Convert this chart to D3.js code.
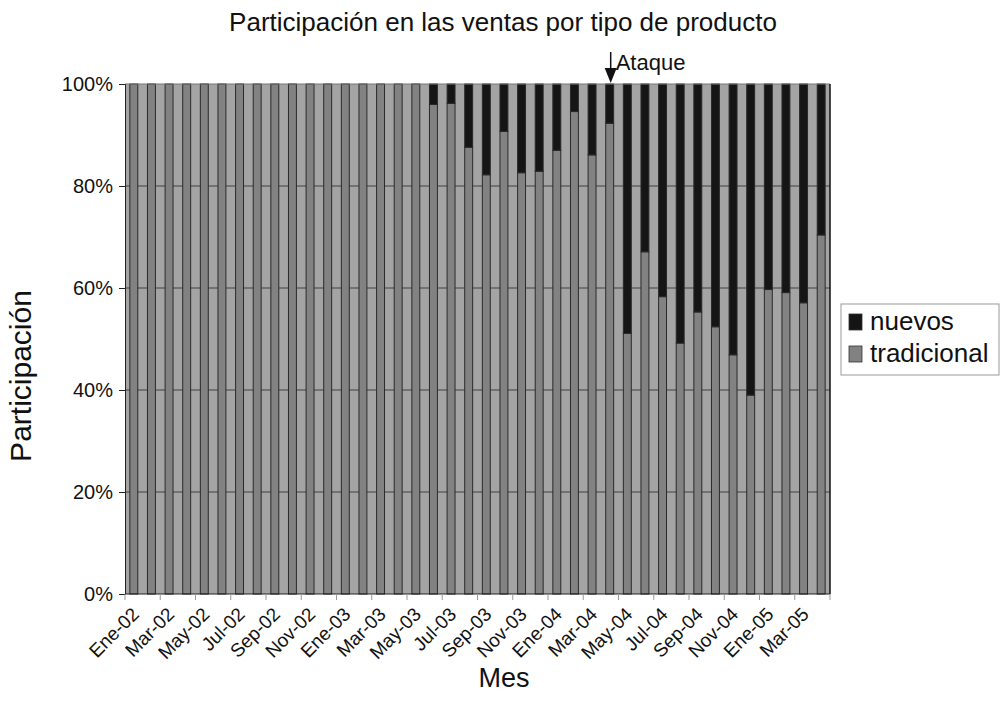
<!DOCTYPE html>
<html>
<head>
<meta charset="utf-8">
<script src="https://cdn.jsdelivr.net/npm/d3@7"></script>
<style>
  body { margin: 0; background: #fff; }
  svg { font-family: Arial, "Liberation Sans", sans-serif; }
</style>
</head>
<body>
<svg id="chart" width="1006" height="709"></svg>
<script>
// Monthly categories, Ene-02 .. Abr-05
const months = [
  "Ene-02","Feb-02","Mar-02","Abr-02","May-02","Jun-02","Jul-02","Ago-02","Sep-02","Oct-02","Nov-02","Dic-02",
  "Ene-03","Feb-03","Mar-03","Abr-03","May-03","Jun-03","Jul-03","Ago-03","Sep-03","Oct-03","Nov-03","Dic-03",
  "Ene-04","Feb-04","Mar-04","Abr-04","May-04","Jun-04","Jul-04","Ago-04","Sep-04","Oct-04","Nov-04","Dic-04",
  "Ene-05","Feb-05","Mar-05","Abr-05"
];

// Share of sales (%) by product type
const tradicional = [
  100,100,100,100,100,100,100,100,100,100,100,100,
  100,100,100,100,100,96,96.2,87.6,82.2,90.7,82.6,82.9,
  87,94.6,86.1,92.3,51.1,67.1,58.3,49.2,55.3,52.4,46.9,39,
  59.7,59.1,57.1,70.4
];
const nuevos = [
  0,0,0,0,0,0,0,0,0,0,0,0,
  0,0,0,0,0,4,3.8,12.4,17.8,9.3,17.4,17.1,
  13,5.4,13.9,7.7,48.9,32.9,41.7,50.8,44.7,47.6,53.1,61,
  40.3,40.9,42.9,29.6
];

// Axis labels shown every two months
const tickLabels = [
  "Ene-02","Mar-02","May-02","Jul-02","Sep-02","Nov-02","Ene-03","Mar-03","May-03","Jul-03",
  "Sep-03","Nov-03","Ene-04","Mar-04","May-04","Jul-04","Sep-04","Nov-04","Ene-05","Mar-05"
];
const yTicks = [0, 0.2, 0.4, 0.6, 0.8, 1];

const eventMonth = "Abr-04";
const eventLabel = "Ataque";
const seriesKeys = ["tradicional", "nuevos"];
const legendKeys = ["nuevos", "tradicional"];

const rows = months.map((m, i) => ({ mes: m, tradicional: tradicional[i], nuevos: nuevos[i] }));

const svg = d3.select("#chart");
const m = { left: 125, right: 830, top: 84, bottom: 594 };

const x = d3.scaleBand().domain(months).range([m.left, m.right]).paddingInner(0.55).paddingOuter(0.275);
const y = d3.scaleLinear().domain([0, 1]).range([m.bottom, m.top]);
const color = d3.scaleOrdinal().domain(seriesKeys).range(["#828282", "#151515"]);

const stacked = d3.stack().keys(seriesKeys).offset(d3.stackOffsetExpand)(rows);

// plot area
svg.append("rect")
  .attr("x", m.left).attr("y", m.top)
  .attr("width", m.right - m.left).attr("height", m.bottom - m.top)
  .attr("fill", "#a4a4a4");

// horizontal gridlines
svg.append("g")
  .selectAll("line").data(yTicks.slice(1, -1)).join("line")
  .attr("x1", m.left).attr("x2", m.right)
  .attr("y1", d => y(d)).attr("y2", d => y(d))
  .attr("stroke", "#404040").attr("stroke-width", 1);

// stacked bars
svg.append("g")
  .selectAll("g").data(stacked).join("g")
  .attr("fill", d => color(d.key))
  .selectAll("rect").data(d => d).join("rect")
  .attr("x", d => x(d.data.mes))
  .attr("width", x.bandwidth())
  .attr("y", d => y(d[1]))
  .attr("height", d => Math.max(0, y(d[0]) - y(d[1])))
  .attr("stroke", "#2a2a2a").attr("stroke-width", 1);

// plot frame
svg.append("line").attr("x1", m.left).attr("x2", m.right).attr("y1", m.top).attr("y2", m.top)
  .attr("stroke", "#777").attr("stroke-width", 1);
svg.append("line").attr("x1", m.right).attr("x2", m.right).attr("y1", m.top).attr("y2", m.bottom)
  .attr("stroke", "#111").attr("stroke-width", 1.5);

// y axis
const yAxis = d3.axisLeft(y).tickValues(yTicks).tickFormat(d3.format(".0%")).tickSize(6).tickPadding(6);
const gy = svg.append("g").attr("transform", `translate(${m.left},0)`).call(yAxis);
gy.select(".domain").attr("stroke", "#222");
gy.selectAll(".tick line").attr("stroke", "#222");
gy.selectAll(".tick text").attr("font-size", 20).attr("fill", "#111");

// x axis: ticks on every second category boundary, labels centred on their month
const step = x.step();
const boundaries = d3.range(0, months.length + 1, 2).map(i => m.left + x.paddingOuter() * step - x.paddingInner() * step / 2 + i * step);
const gx = svg.append("g");
gx.append("line").attr("x1", m.left).attr("x2", m.right).attr("y1", m.bottom).attr("y2", m.bottom)
  .attr("stroke", "#222").attr("stroke-width", 1.2);
gx.selectAll("line.tk").data(boundaries).join("line").attr("class", "tk")
  .attr("x1", d => d).attr("x2", d => d).attr("y1", m.bottom).attr("y2", m.bottom + 6)
  .attr("stroke", "#999");
gx.selectAll("text").data(tickLabels).join("text")
  .attr("transform", d => `translate(${x(d) + x.bandwidth() / 2 - 3},${m.bottom + 12}) rotate(-45)`)
  .attr("text-anchor", "end").attr("dy", "0.7em")
  .attr("font-size", 19).attr("fill", "#111")
  .text(d => d);

// titles
svg.append("text").attr("x", 503).attr("y", 31).attr("text-anchor", "middle")
  .attr("font-size", 26).attr("fill", "#111").text("Participación en las ventas por tipo de producto");
svg.append("text").attr("x", 504).attr("y", 687).attr("text-anchor", "middle")
  .attr("font-size", 27).attr("fill", "#111").text("Mes");
svg.append("text").attr("transform", "translate(31,376) rotate(-90)").attr("text-anchor", "middle")
  .attr("font-size", 30).attr("fill", "#111").text("Participación");

// event marker
const ex = x(eventMonth) + x.bandwidth() / 2 + 1;
svg.append("line").attr("x1", ex).attr("x2", ex).attr("y1", 52).attr("y2", m.top - 6)
  .attr("stroke", "#111").attr("stroke-width", 1.5);
svg.append("path").attr("d", `M${ex - 6},${m.top - 16} L${ex + 6},${m.top - 16} L${ex},${m.top - 1} Z`)
  .attr("fill", "#111");
svg.append("text").attr("x", ex + 5).attr("y", 70).attr("font-size", 22).attr("fill", "#111").text(eventLabel);

// legend
const lg = svg.append("g").attr("transform", "translate(841,304)");
lg.append("rect").attr("width", 158).attr("height", 71).attr("fill", "#fff")
  .attr("stroke", "#999").attr("stroke-width", 1);
lg.selectAll("g").data(legendKeys).join("g")
  .attr("transform", (d, i) => `translate(8,${10 + i * 32})`)
  .each(function (d) {
    const g = d3.select(this);
    g.append("rect").attr("width", 13).attr("height", 16).attr("fill", color(d))
      .attr("stroke", "#333").attr("stroke-width", 0.8);
    g.append("text").attr("x", 21).attr("y", 16).attr("font-size", 26).attr("fill", "#111").text(d);
  });
</script>
</body>
</html>
